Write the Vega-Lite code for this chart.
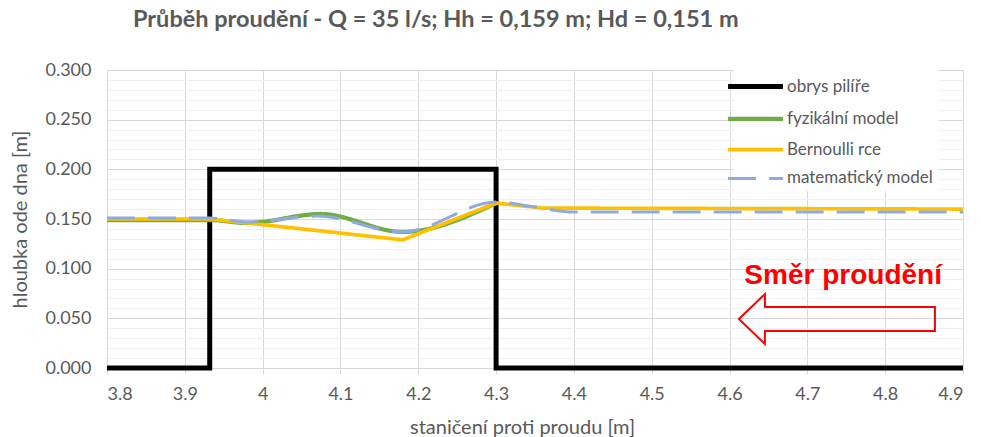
{
  "$schema": "https://vega.github.io/schema/vega-lite/v6.json",
  "width": 856,
  "height": 298,
  "autosize": {"type": "none"},
  "padding": {"left": 107, "top": 70, "right": 18, "bottom": 69},
  "background": "#ffffff",
  "config": {
    "view": {"stroke": null},
    "font": "Lato",
    "axis": {"labelFont": "Lato", "titleFont": "Lato", "labelColor": "#595959", "titleColor": "#595959", "labelFontSize": 18, "titleFontSize": 20, "titleFontWeight": "normal", "labelOverlap": false},
    "legend": {
      "title": null, "orient": "none", "legendX": 627, "legendY": -5,
      "fillColor": "#ffffff", "padding": 4,
      "symbolType": "M -1.83 0 H 1.83", "symbolSize": 900,
      "labelFont": "Lato", "labelFontSize": 17, "labelColor": "#595959", "rowPadding": 4.3, "labelOffset": 14
    }
  },
  "title": {
    "text": "Průběh proudění - Q = 35 l/s; Hh = 0,159 m; Hd = 0,151 m",
    "anchor": "start",
    "frame": "group",
    "dx": 26,
    "offset": 30,
    "font": "Lato",
    "fontSize": 23.5,
    "fontWeight": "bold",
    "color": "#595959"
  },
  "encoding": {
    "x": {
      "field": "x", "type": "quantitative",
      "scale": {"domain": [3.8, 4.9], "nice": false, "zero": false},
      "axis": {
        "title": "staničení proti proudu [m]",
        "titleX": 415,
        "values": [3.8, 3.9, 4, 4.1, 4.2, 4.3, 4.4, 4.5, 4.6, 4.7, 4.8, 4.9],
        "format": "~g",
        "labelOverlap": false,
        "grid": true, "gridColor": "#d9d9d9", "gridWidth": 1,
        "domainColor": "#d9d9d9", "tickColor": "#d9d9d9", "tickSize": 6,
        "labelPadding": 11, "titlePadding": 14
      }
    },
    "y": {
      "field": "y", "type": "quantitative",
      "scale": {"domain": [0, 0.3], "nice": false},
      "axis": {
        "title": "hloubka ode dna [m]",
        "values": [0, 0.01, 0.02, 0.03, 0.04, 0.05, 0.06, 0.07, 0.08, 0.09, 0.1, 0.11, 0.12, 0.13, 0.14, 0.15, 0.16, 0.17, 0.18, 0.19, 0.2, 0.21, 0.22, 0.23, 0.24, 0.25, 0.26, 0.27, 0.28, 0.29, 0.3],
        "labelExpr": "round(datum.value*100) % 5 == 0 ? format(datum.value, '.3f') : ''",
        "labelOverlap": false,
        "grid": true,
        "gridColor": {"condition": {"test": "round(datum.value*100) % 5 == 0", "value": "#d9d9d9"}, "value": "#f0f0f0"},
        "ticks": false,
        "domainColor": "#d9d9d9",
        "labelPadding": 16, "titlePadding": 14
      }
    }
  },
  "layer": [
    {
      "data": {
        "values": [
          {"series": "obrys pilíře", "i": 0, "x": 3.8, "y": 0},
          {"series": "obrys pilíře", "i": 1, "x": 3.932, "y": 0},
          {"series": "obrys pilíře", "i": 2, "x": 3.932, "y": 0.2},
          {"series": "obrys pilíře", "i": 3, "x": 4.3, "y": 0.2},
          {"series": "obrys pilíře", "i": 4, "x": 4.3, "y": 0},
          {"series": "obrys pilíře", "i": 5, "x": 4.9, "y": 0},
          {"series": "fyzikální model", "i": 0, "x": 3.8, "y": 0.149},
          {"series": "fyzikální model", "i": 1, "x": 3.932, "y": 0.149},
          {"series": "fyzikální model", "i": 2, "x": 3.98, "y": 0.146},
          {"series": "fyzikální model", "i": 3, "x": 4.075, "y": 0.155},
          {"series": "fyzikální model", "i": 4, "x": 4.18, "y": 0.137},
          {"series": "fyzikální model", "i": 5, "x": 4.3, "y": 0.166},
          {"series": "Bernoulli rce", "i": 0, "x": 3.8, "y": 0.15},
          {"series": "Bernoulli rce", "i": 1, "x": 3.932, "y": 0.15},
          {"series": "Bernoulli rce", "i": 2, "x": 3.98, "y": 0.146},
          {"series": "Bernoulli rce", "i": 3, "x": 4.18, "y": 0.129},
          {"series": "Bernoulli rce", "i": 4, "x": 4.3, "y": 0.166},
          {"series": "Bernoulli rce", "i": 5, "x": 4.36, "y": 0.161},
          {"series": "Bernoulli rce", "i": 6, "x": 4.9, "y": 0.16},
          {"series": "matematický model", "i": 0, "x": 3.8, "y": 0.151},
          {"series": "matematický model", "i": 1, "x": 3.932, "y": 0.151},
          {"series": "matematický model", "i": 2, "x": 3.98, "y": 0.147},
          {"series": "matematický model", "i": 3, "x": 4.07, "y": 0.153},
          {"series": "matematický model", "i": 4, "x": 4.18, "y": 0.137},
          {"series": "matematický model", "i": 5, "x": 4.3, "y": 0.167},
          {"series": "matematický model", "i": 6, "x": 4.35, "y": 0.162},
          {"series": "matematický model", "i": 7, "x": 4.4, "y": 0.157},
          {"series": "matematický model", "i": 8, "x": 4.9, "y": 0.157}
        ]
      },
      "encoding": {
        "order": {"field": "i", "type": "quantitative"},
        "color": {
          "field": "series", "type": "nominal",
          "scale": {"domain": ["obrys pilíře", "fyzikální model", "Bernoulli rce", "matematický model"], "range": ["#000000", "#70ad47", "#ffc000", "#8faadc"]}
        },
        "strokeDash": {
          "field": "series", "type": "nominal",
          "scale": {"domain": ["obrys pilíře", "fyzikální model", "Bernoulli rce", "matematický model"], "range": [[1, 0], [1, 0], [1, 0], [28, 13]]}
        },
        "strokeWidth": {
          "field": "series", "type": "nominal",
          "scale": {"domain": ["obrys pilíře", "fyzikální model", "Bernoulli rce", "matematický model"], "range": [5, 3, 3.5, 3.5]}
        }
      },
      "layer": [
        {"transform": [{"filter": "datum.series == 'obrys pilíře'"}], "mark": {"type": "line", "interpolate": "linear"}},
        {"transform": [{"filter": "datum.series == 'fyzikální model'"}], "mark": {"type": "line", "interpolate": "monotone"}},
        {"transform": [{"filter": "datum.series == 'Bernoulli rce'"}], "mark": {"type": "line", "interpolate": "linear"}},
        {"transform": [{"filter": "datum.series == 'matematický model'"}], "mark": {"type": "line", "interpolate": "monotone"}}
      ]
    },
    {
      "data": {"values": [{"label": "Směr proudění", "x": 4.746, "y": 0.0846}]},
      "mark": {"type": "text", "font": "Liberation Sans", "fontWeight": "bold", "fontSize": 28, "color": "#ff0000", "align": "center", "baseline": "alphabetic"},
      "encoding": {
        "text": {"field": "label"}
      }
    },
    {
      "data": {"values": [{"label": "arrow", "x": 4.738, "y": 0.0493}]},
      "mark": {"type": "point", "shape": "M -1 0 L -0.735 -0.255 L -0.735 -0.122 L 1 -0.122 L 1 0.122 L -0.735 0.122 L -0.735 0.255 Z", "size": 38416, "filled": false, "stroke": "#ff0000", "strokeWidth": 2, "opacity": 1, "fill": "#ffffff", "fillOpacity": 0}
    }
  ]
}
